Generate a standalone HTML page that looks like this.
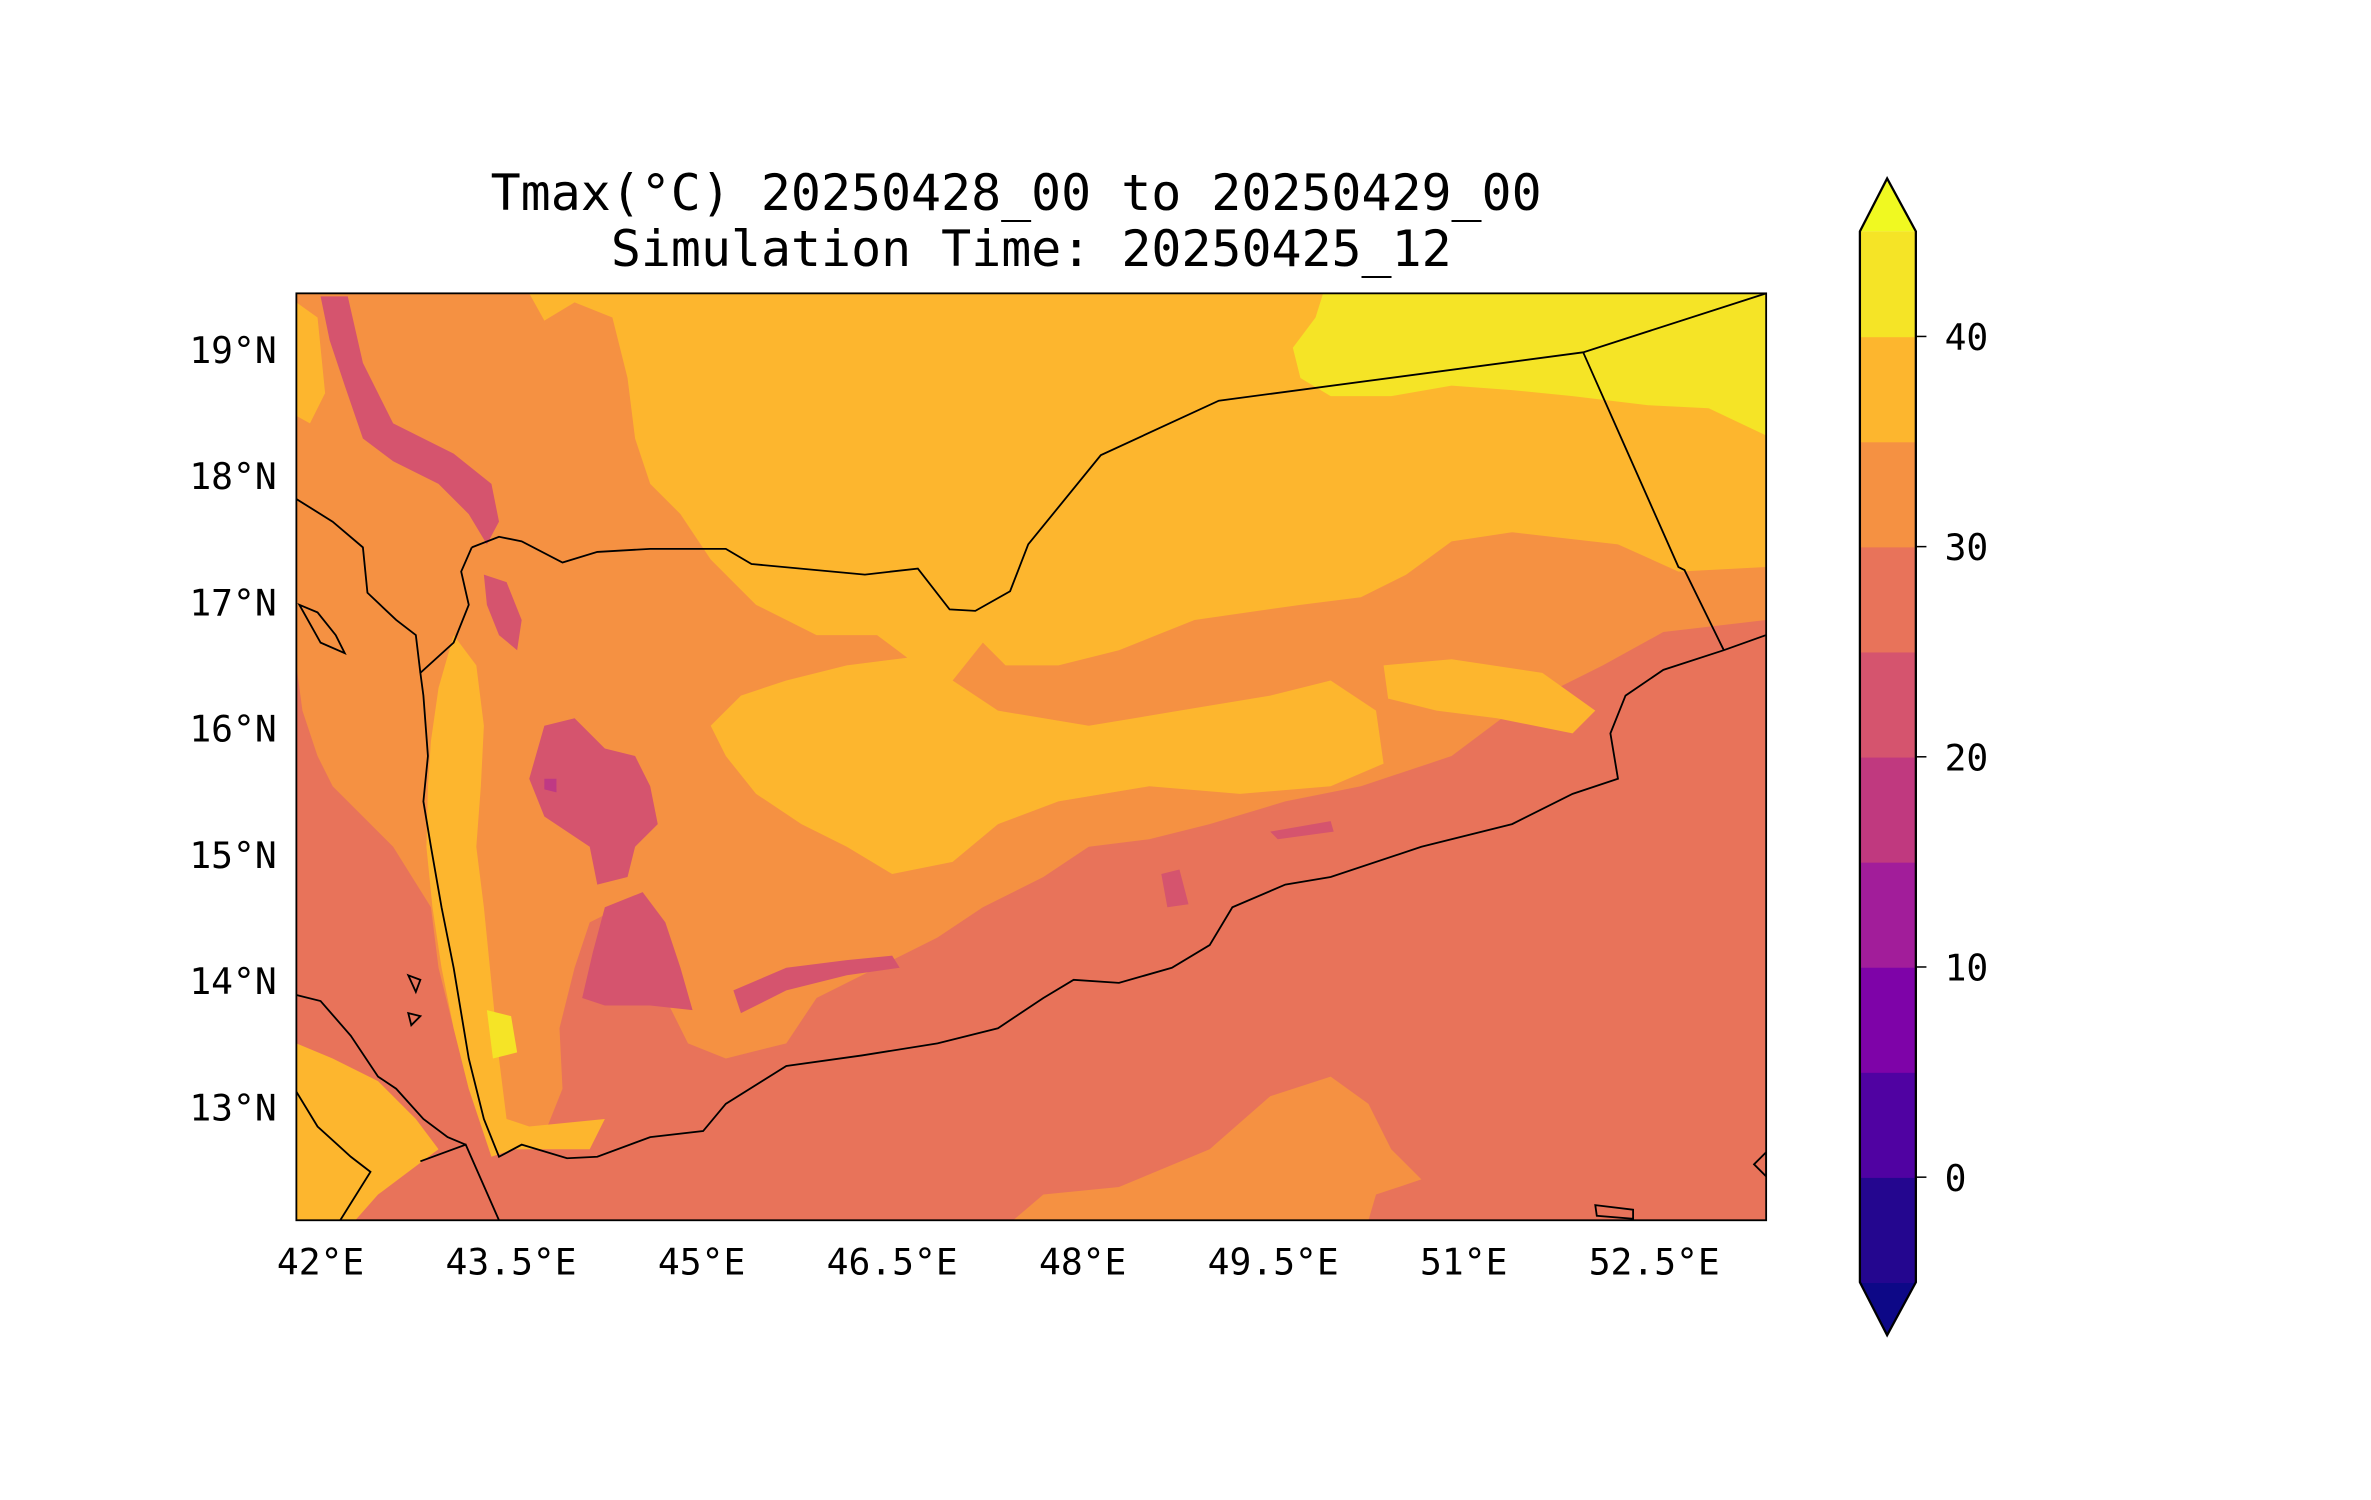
<!DOCTYPE html>
<html><head><meta charset="utf-8"><style>
html,body{margin:0;padding:0;background:#fff;}
svg{display:block;}
text{font-family:"DejaVu Sans Mono","Liberation Mono",monospace;fill:#000;}
</style></head><body>
<svg id="fig" width="2371" height="1500" viewBox="0 0 1568 992" preserveAspectRatio="none">
<text x="672" y="139" font-size="33" text-anchor="middle">Tmax(°C) 20250428_00 to 20250429_00</text>
<text x="682" y="176" font-size="33" text-anchor="middle">Simulation Time: 20250425_12</text>
<defs><clipPath id="mapclip"><rect x="196" y="194" width="972" height="613"/></clipPath></defs>
<g clip-path="url(#mapclip)">
<rect x="196" y="194" width="972" height="613" fill="#e8735a"/>
<path fill="#f59142" d="M196,194 L1168,194 L1168,410 L1100,418 L1060,440 L1000,470 L960,500 L900,520 L850,530 L800,545 L760,555 L720,560 L690,580 L650,600 L620,620 L580,640 L540,660 L520,690 L480,700 L455,690 L440,660 L430,620 L410,600 L390,610 L380,640 L370,680 L372,720 L360,750 L345,760 L330,760 L310,720 L300,680 L290,640 L285,600 L260,560 L240,540 L220,520 L210,500 L200,470 L196,440 Z"/>
<path fill="#f59142" d="M670,807 L690,790 L740,785 L800,760 L840,725 L880,712 L905,730 L920,760 L940,780 L910,790 L905,807 Z"/>
<path fill="#fdb62e" d="M350,194 L1168,194 L1168,375 L1110,378 L1070,360 L1000,352 L960,358 L930,380 L900,395 L860,400 L790,410 L740,430 L700,440 L665,440 L650,425 L630,450 L660,470 L720,480 L780,470 L840,460 L880,450 L910,470 L915,505 L880,520 L820,525 L760,520 L700,530 L660,545 L630,570 L590,578 L560,560 L530,545 L500,525 L480,500 L470,480 L490,460 L520,450 L560,440 L600,435 L580,420 L540,420 L500,400 L470,370 L450,340 L430,320 L420,290 L415,250 L405,210 L380,200 L360,212 Z"/>
<path fill="#fdb62e" d="M915,440 L960,436 L1020,445 L1055,470 L1040,485 L990,475 L950,470 L918,462 Z"/>
<path fill="#fdb62e" d="M300,420 L315,440 L320,480 L318,520 L315,560 L320,600 L325,650 L330,700 L335,740 L350,745 L400,740 L390,760 L340,760 L325,765 L310,720 L300,680 L292,640 L286,600 L282,560 L283,520 L285,490 L290,455 Z"/>
<path fill="#fdb62e" d="M196,200 L210,210 L215,260 L205,280 L196,275 Z"/>
<path fill="#fdb62e" d="M196,690 L220,700 L250,715 L275,740 L290,760 L270,775 L250,790 L235,807 L196,807 Z"/>
<path fill="#f5e426" d="M875,194 L1168,194 L1168,288 L1130,270 L1090,268 L1040,262 L1000,258 L960,255 L920,262 L880,262 L860,250 L855,230 L870,210 Z"/>
<path fill="#f5e426" d="M322,668 L338,672 L342,696 L326,700 Z"/>
<path fill="#d5546e" d="M212,196 L230,196 L240,240 L260,280 L300,300 L325,320 L330,345 L322,360 L310,340 L290,320 L260,305 L240,290 L228,255 L218,225 Z"/>
<path fill="#d5546e" d="M320,380 L335,385 L345,410 L342,430 L330,420 L322,400 Z"/>
<path fill="#d5546e" d="M360,480 L380,475 L400,495 L420,500 L430,520 L435,545 L420,560 L415,580 L395,585 L390,560 L375,550 L360,540 L350,515 Z"/>
<path fill="#d5546e" d="M400,600 L425,590 L440,610 L450,640 L458,668 L430,665 L400,665 L385,660 L392,630 Z"/>
<path fill="#d5546e" d="M485,655 L520,640 L560,635 L590,632 L595,640 L560,645 L520,655 L490,670 Z"/>
<path fill="#d5546e" d="M768,578 L780,575 L786,598 L772,600 Z M840,550 L880,543 L882,550 L845,555 Z"/>
<path fill="#bf3984" d="M360,515 L368,515 L368,524 L360,522 Z"/>
</g>
<g fill="none" stroke="#000" stroke-width="1.2" clip-path="url(#mapclip)">
<polyline points="312,362 330,355 345,358 372,372 395,365 430,363 480,363 497,373 572,380 607,376 628,403 645,404 668,391 680,360 728,301 806,265 1047,233 1168,194"/>
<polyline points="1047,233 1110,375 1114,377 1140,430"/>
<polyline points="1168,420 1140,430 1100,443 1075,460 1065,485 1070,515 1040,525 1000,545 940,560 880,580 850,585 815,600 800,625 775,640 740,650 710,648 690,660 660,680 620,690 570,698 520,705 480,730 465,748 430,752 395,765 375,766 345,757 330,765 320,740 310,700 300,640 292,600 285,560 280,530 283,500 280,460 278,445 300,425 310,400 305,378 312,362"/>
<polyline points="196,330 220,345 240,362 243,392 262,410 275,420 278,445"/>
<polyline points="196,658 212,662 232,685 250,712 262,720 280,740 296,752 308,757"/>
<polyline points="196,722 210,745 232,765 245,775 225,807"/>
<polyline points="278,768 308,757 330,807"/>
<path d="M198,400 L210,405 L222,420 L228,432 L212,425 Z M270,645 L278,648 L275,656 Z M270,670 L278,672 L272,678 Z M1055,797 L1080,800 L1080,806 L1056,804 Z M1160,770 L1168,762 L1168,778 Z"/>
</g>
<rect x="196" y="194" width="972" height="613" fill="none" stroke="#000" stroke-width="1.2"/>
<g id="xt" font-size="24" text-anchor="middle"></g>
<g id="yt" font-size="24" text-anchor="end"></g>
<g id="cb"></g>
</svg>
<script>
const lonTicks=[42,43.5,45,46.5,48,49.5,51,52.5];
const latTicks=[13,14,15,16,17,18,19];
const cbLevels=[-5,0,5,10,15,20,25,30,35,40,45];
const cbColors=["#24068f","#5002a2","#7e03a8","#a21d9a","#c0397f","#d5546e","#e8735a","#f59142","#fdb62e","#f5e426"];
const cbTicks=[0,10,20,30,40];
const NS="http://www.w3.org/2000/svg";
const lx=v=>212+(v-42)*84, ly=v=>231+(19-v)*83.5, cy=v=>848-(v+5)*13.9;
function mk(t,a,p){const e=document.createElementNS(NS,t);for(const k in a)e.setAttribute(k,a[k]);p.appendChild(e);return e;}
const xt=document.getElementById('xt'),yt=document.getElementById('yt'),cb=document.getElementById('cb');
lonTicks.forEach(v=>{const e=mk('text',{x:lx(v),y:843},xt);e.textContent=v+'°E';

});
latTicks.forEach(v=>{const e=mk('text',{x:183,y:ly(v)+9},yt);e.textContent=v+'°N';

});
const cbTop=mk('polygon',{points:`1230,${cy(45)} 1248,118 1267,${cy(45)}`,fill:'#f0f921'},cb);


const cbBot=mk('polygon',{points:`1230,${cy(-5)} 1248,883 1267,${cy(-5)}`,fill:'#0d0887'},cb);


cbColors.forEach((c,i)=>{const r=mk('rect',{x:1230,y:cy(cbLevels[i+1]),width:37,height:cy(cbLevels[i])-cy(cbLevels[i+1])+0.5,fill:c},cb);

});
const cbOutline=mk('polygon',{points:`1230,${cy(45)} 1248,118 1267,${cy(45)} 1267,${cy(-5)} 1248,883 1230,${cy(-5)}`,fill:'none',stroke:'#000','stroke-width':1.5},cb);


cbTicks.forEach(v=>{mk('line',{x1:1267,x2:1274,y1:cy(v),y2:cy(v),stroke:'#000','stroke-width':1},cb);
const t=mk('text',{x:1286,y:cy(v)+9,'font-size':24},cb);t.textContent=v;

});
</script>
</body></html>
